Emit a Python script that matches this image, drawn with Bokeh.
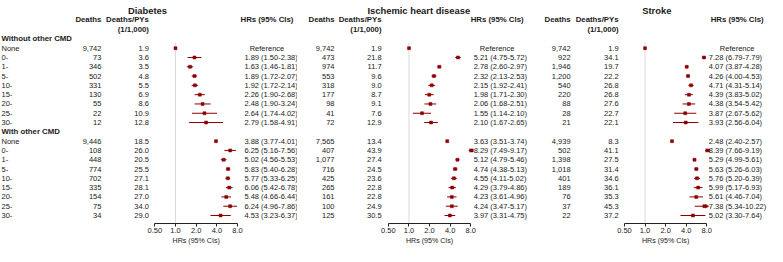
import numpy as np
from bokeh.plotting import figure
from bokeh.models import Range1d, LinearScale, FixedTicker, CustomJSTickFormatter
from bokeh.layouts import row
from bokeh.embed import file_html
from bokeh.resources import INLINE
from bokeh.core.properties import value

# ---------------- data ----------------
diseases = ["Diabetes", "Ischemic heart disease", "Stroke"]
group_names = ["Without other CMD", "With other CMD"]
age_labels = ["None", "0-", "1-", "5-", "10-", "15-", "20-", "25-", "30-"]
axis_ticks = [0.5, 1, 2, 4, 8]

dm_deaths_without = [9742, 73, 346, 502, 331, 130, 55, 22, 12]
dm_rate_without = [1.9, 3.6, 3.5, 4.8, 5.5, 6.9, 8.6, 10.9, 12.8]
dm_hr_without = [1.00, 1.89, 1.63, 1.89, 1.92, 2.26, 2.48, 2.64, 2.79]
dm_lo_without = [None, 1.50, 1.46, 1.72, 1.72, 1.90, 1.90, 1.74, 1.58]
dm_hi_without = [None, 2.38, 1.81, 2.07, 2.14, 2.68, 3.24, 4.02, 4.91]
dm_deaths_with = [9446, 108, 448, 774, 702, 335, 154, 75, 34]
dm_rate_with = [18.5, 26.0, 20.5, 25.5, 27.1, 28.1, 27.0, 34.0, 29.0]
dm_hr_with = [3.88, 6.25, 5.02, 5.83, 5.77, 6.06, 5.48, 6.24, 4.53]
dm_lo_with = [3.77, 5.16, 4.56, 5.40, 5.33, 5.42, 4.66, 4.96, 3.23]
dm_hi_with = [4.01, 7.56, 5.53, 6.28, 6.25, 6.78, 6.44, 7.86, 6.37]

ihd_deaths_without = [9742, 473, 974, 553, 318, 177, 98, 41, 72]
ihd_rate_without = [1.9, 21.8, 11.7, 9.6, 9.0, 8.7, 9.1, 7.6, 12.9]
ihd_hr_without = [1.00, 5.21, 2.78, 2.32, 2.15, 1.98, 2.06, 1.55, 2.10]
ihd_lo_without = [None, 4.75, 2.60, 2.13, 1.92, 1.71, 1.68, 1.14, 1.67]
ihd_hi_without = [None, 5.72, 2.97, 2.53, 2.41, 2.30, 2.51, 2.10, 2.65]
ihd_deaths_with = [7565, 407, 1077, 716, 425, 265, 161, 100, 125]
ihd_rate_with = [13.4, 43.9, 27.4, 24.5, 23.6, 22.8, 22.8, 24.9, 30.5]
ihd_hr_with = [3.63, 8.29, 5.12, 4.74, 4.55, 4.29, 4.23, 4.24, 3.97]
ihd_lo_with = [3.51, 7.49, 4.79, 4.38, 4.11, 3.79, 3.61, 3.47, 3.31]
ihd_hi_with = [3.74, 9.17, 5.46, 5.13, 5.02, 4.86, 4.96, 5.17, 4.75]

st_deaths_without = [9742, 922, 1946, 1200, 540, 220, 88, 28, 21]
st_rate_without = [1.9, 34.1, 19.7, 22.2, 26.8, 26.8, 27.6, 22.7, 22.1]
st_hr_without = [1.00, 7.28, 4.07, 4.26, 4.71, 4.39, 4.38, 3.87, 3.93]
st_lo_without = [None, 6.79, 3.87, 4.00, 4.31, 3.83, 3.54, 2.67, 2.56]
st_hi_without = [None, 7.79, 4.28, 4.53, 5.14, 5.02, 5.42, 5.62, 6.04]
st_deaths_with = [4939, 502, 1398, 1018, 401, 189, 76, 37, 22]
st_rate_with = [8.3, 41.1, 27.5, 31.4, 34.6, 36.1, 35.3, 45.3, 37.2]
st_hr_with = [2.48, 8.39, 5.29, 5.63, 5.76, 5.99, 5.61, 7.38, 5.02]
st_lo_with = [2.40, 7.66, 4.99, 5.26, 5.20, 5.17, 4.46, 5.34, 3.30]
st_hi_with = [2.57, 9.19, 5.61, 6.03, 6.39, 6.93, 7.04, 10.22, 7.64]

panels_data = [
    (dm_deaths_without + dm_deaths_with, dm_rate_without + dm_rate_with,
     dm_hr_without + dm_hr_with, dm_lo_without + dm_lo_with, dm_hi_without + dm_hi_with),
    (ihd_deaths_without + ihd_deaths_with, ihd_rate_without + ihd_rate_with,
     ihd_hr_without + ihd_hr_with, ihd_lo_without + ihd_lo_with, ihd_hi_without + ihd_hi_with),
    (st_deaths_without + st_deaths_with, st_rate_without + st_rate_with,
     st_hr_without + st_hr_with, st_lo_without + st_lo_with, st_hi_without + st_hi_with),
]

# ---------------- layout (reference pixel units) ----------------
W_TOTAL, H = 767, 246
S = W_TOTAL / 783.0
widths = [297, 235, 235]
ROW0_Y, ROW_STEP = 52.0, 9.75
REF_TOP, REF_BOTTOM = 2.0, 260.0
REF_AXIS, REF_AXIS_TITLE = 236.0, 254.0
CLIP = 8.0
panel_layout = [
    dict(L=157.5, R=242.0, deaths_x=103, rate_x=151.5, hr_left=249, hr_center=272, title_x=150, labels=True),
    dict(L=396.0, R=480.0, deaths_x=341, rate_x=389.0, hr_left=483, hr_center=507, title_x=427, labels=False),
    dict(L=637.0, R=721.0, deaths_x=582, rate_x=631.0, hr_left=723, hr_center=752, title_x=670, labels=False),
]

FONT = value("Liberation Sans")
TXT = "#1a1a1a"
RED = "#8b0000"
BODY = "7.5px"
BOLD = "7.8px"


def k_of(ref_y):
    return (ref_y - ROW0_Y) / ROW_STEP


data_rows = list(range(0, 9)) + list(range(10, 19))
group_rows = [-1, 9]

figs = []
cum = 0
for i, (name, lay, dat) in enumerate(zip(diseases, panel_layout, panels_data)):
    w = widths[i]
    a0 = cum / S
    a1 = (cum + w) / S
    cum += w
    L, R = lay["L"], lay["R"]
    log_start = 2 ** (-1 + (a0 - L) / (R - L) * 4)
    log_end = 2 ** (-1 + (a1 - L) / (R - L) * 4)

    p = figure(width=w, height=H, x_axis_type="log",
               x_range=Range1d(log_start, log_end),
               y_range=Range1d(k_of(REF_BOTTOM), k_of(REF_TOP)),
               output_backend="svg", toolbar_location=None,
               min_border=0, y_axis_location=None)
    p.extra_x_ranges = {"px": Range1d(a0, a1)}
    p.extra_x_scales = {"px": LinearScale()}
    p.xgrid.visible = False
    p.ygrid.visible = False
    p.outline_line_color = None

    deaths, rates, hrs, los, his = dat

    # reference line at HR = 1
    p.segment(x0=[1], x1=[1], y0=[-0.6], y1=[k_of(REF_AXIS)], color="#dadada", line_width=1)

    # confidence intervals
    ci_y, ci_lo, ci_hi, arr_y = [], [], [], []
    for k, lo, hi in zip(data_rows, los, his):
        if lo is None:
            continue
        ci_y.append(k)
        ci_lo.append(lo)
        ci_hi.append(min(hi, CLIP))
        if hi > CLIP:
            arr_y.append(k)
    p.segment(x0=ci_lo, x1=ci_hi, y0=ci_y, y1=ci_y, color=RED, line_width=1)
    if arr_y:
        p.scatter(x=[CLIP] * len(arr_y), y=arr_y, marker="triangle", angle=-np.pi / 2,
                  size=3.5, color=RED, line_width=0.5)
    p.scatter(x=hrs, y=data_rows, marker="square", size=3.0, color=RED, line_width=0.5)

    # title
    p.text(x=[lay["title_x"]], y=[k_of(13)], text=[name], x_range_name="px",
           text_font=FONT, text_font_size="9.4px", text_font_style="bold",
           text_align="center", text_baseline="middle", text_color=TXT)
    # headers
    p.text(x=[lay["deaths_x"]], y=[k_of(22)], text=["Deaths"], x_range_name="px",
           text_font=FONT, text_font_size=BOLD, text_font_style="bold",
           text_align="right", text_baseline="middle", text_color=TXT)
    p.text(x=[lay["rate_x"], lay["rate_x"]], y=[k_of(22), k_of(32)],
           text=["Deaths/PYs", "(1/1,000)"], x_range_name="px",
           text_font=FONT, text_font_size=BOLD, text_font_style="bold",
           text_align="right", text_baseline="middle", text_color=TXT)
    p.text(x=[lay["hr_center"]], y=[k_of(22)], text=["HRs (95% CIs)"], x_range_name="px",
           text_font=FONT, text_font_size=BOLD, text_font_style="bold",
           text_align="center", text_baseline="middle", text_color=TXT)

    if lay["labels"]:
        p.text(x=[1, 1], y=group_rows, text=group_names, x_range_name="px",
               text_font=FONT, text_font_size=BOLD, text_font_style="bold",
               text_align="left", text_baseline="middle", text_color=TXT)
        p.text(x=[1] * len(data_rows), y=data_rows, text=age_labels + age_labels,
               x_range_name="px", text_font=FONT, text_font_size=BODY,
               text_align="left", text_baseline="middle", text_color=TXT)

    p.text(x=[lay["deaths_x"]] * len(data_rows), y=data_rows,
           text=["{:,}".format(d) for d in deaths], x_range_name="px",
           text_font=FONT, text_font_size=BODY, text_align="right",
           text_baseline="middle", text_color=TXT)
    p.text(x=[lay["rate_x"]] * len(data_rows), y=data_rows,
           text=["{:.1f}".format(r) for r in rates], x_range_name="px",
           text_font=FONT, text_font_size=BODY, text_align="right",
           text_baseline="middle", text_color=TXT)

    ref_y = [k for k, lo in zip(data_rows, los) if lo is None]
    val_y = [k for k, lo in zip(data_rows, los) if lo is not None]
    val_t = ["{:.2f} ({:.2f}-{:.2f})".format(h, lo, hi)
             for h, lo, hi in zip(hrs, los, his) if lo is not None]
    p.text(x=[lay["hr_center"]] * len(ref_y), y=ref_y, text=["Reference"] * len(ref_y),
           x_range_name="px", text_font=FONT, text_font_size=BODY,
           text_align="center", text_baseline="middle", text_color=TXT)
    p.text(x=[lay["hr_left"]] * len(val_y), y=val_y, text=val_t,
           x_range_name="px", text_font=FONT, text_font_size=BODY,
           text_align="left", text_baseline="middle", text_color=TXT)

    # axis (drawn at a fixed row position inside the frame)
    ax = p.xaxis[0]
    ax.fixed_location = k_of(REF_AXIS)
    ax.ticker = FixedTicker(ticks=axis_ticks)
    ax.formatter = CustomJSTickFormatter(code="return tick < 1 ? tick.toFixed(2) : tick.toFixed(1);")
    ax.bounds = (axis_ticks[0], axis_ticks[-1])
    ax.minor_tick_line_color = None
    ax.major_tick_in = 0
    ax.major_tick_out = 3
    ax.major_label_standoff = 1
    ax.major_label_text_font = "Liberation Sans"
    ax.major_label_text_font_size = BODY
    ax.major_label_text_color = TXT
    ax.axis_line_color = "#222222"
    ax.major_tick_line_color = "#222222"

    # axis title under the forest
    p.text(x=[(L + R) / 2], y=[k_of(REF_AXIS_TITLE)], text=["HRs (95% CIs)"], x_range_name="px",
           text_font=FONT, text_font_size="7.1px", text_align="center",
           text_baseline="middle", text_color=TXT)
    figs.append(p)

layout = row(*figs, spacing=0)
open("out.html", "w").write(file_html(layout, INLINE))
